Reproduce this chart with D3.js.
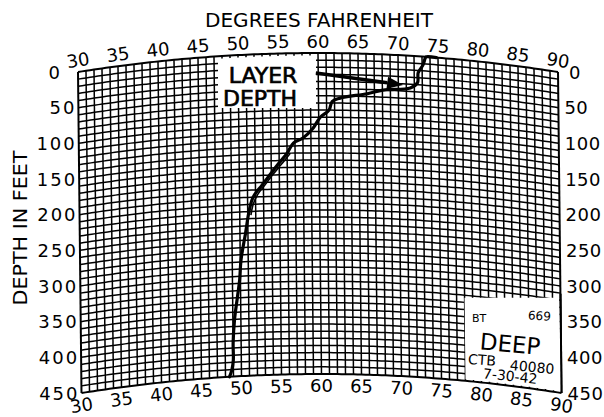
<!DOCTYPE html>
<html><head><meta charset="utf-8">
<script src="https://cdn.jsdelivr.net/npm/d3@7"></script>
<style>
body{margin:0;background:#fff}
svg{display:block}
text{font-family:"DejaVu Sans",sans-serif;fill:#000}
</style>
</head><body>
<svg id="c" width="604" height="417"></svg>
<script>
// ---------- data ----------
const tempTicks = [30,35,40,45,50,55,60,65,70,75,80,85,90];
const depthTicks = [0,50,100,150,200,250,300,350,400,450];
const titleTop = "DEGREES FAHRENHEIT";
const titleLeft = "DEPTH IN FEET";
// main bathythermograph trace (°F, feet)
const traceTemp  = [74.8,73.5,73.4,73.1,72.5,72.4,71.5,68.1,66.1,62.7,61.7,61.3,60.2,59.3,58.0,56.8,56.0,54.8,53.8,52.8,51.7,51.2,50.7,50.1,49.9,49.6,49.2,49.0,49.0,48.8,48.5];
const traceDepth = [0,0,2,12,23,37,45,50,56,63,68,80,90,105,119,126,140,156,170,184,200,218,250,287,315,339,371,403,427,441,450];
// faint return (up) trace
const upTemp  = [56.4,55.3,54.3,53.3,52.3,51.7,51.4];
const upDepth = [140,155,168,182,196,210,225];
// annotation "LAYER DEPTH" arrow
const arrowTemp = [59.7,70.6];
const arrowDepth = [28,41.5];
const layerLabel = ["LAYER","DEPTH"];
const layerBoxTemp = [47.5,59.75];
const layerBoxDepth = 76;
const infoBoxTemp = 78;
const infoBoxDepth = 326;

// ---------- geometry ----------
const svg = d3.select("#c");
const x = d3.scaleLinear().domain([30,90]).range([78,558]);
const y = d3.scaleLinear().domain([0,450]).range([72,393]);
const sag = 19, half = 240, mid = 318, shear = 3.5;
function P(t,d){
  const px = x(t), f = (px-mid)/half;
  return [px + shear*d/450, y(d) - sag*(1-f*f)];
}
function slopeDeg(t){
  const px = x(t);
  return Math.atan(2*sag*(px-mid)/(half*half))*180/Math.PI;
}
const line = d3.line();
const g = svg.append("g");

// ---------- grid ----------
const tAll = d3.range(30,90.01,1);
const dAll = d3.range(0,450.01,10);
g.selectAll("line.v").data(tAll).join("line")
  .attr("x1",t=>P(t,0)[0]).attr("y1",t=>P(t,0)[1])
  .attr("x2",t=>P(t,450)[0]).attr("y2",t=>P(t,450)[1])
  .attr("stroke","#000").attr("stroke-width",t=>(t===30||t===90)?2:1.5);
const tFine = d3.range(30,90.01,0.5);
g.selectAll("path.h").data(dAll).join("path")
  .attr("d",d=>line(tFine.map(t=>P(t,d))))
  .attr("fill","none").attr("stroke","#000")
  .attr("stroke-width",d=>(d===0||d===450)?2:1.5);

// ---------- white boxes ----------
(function(){
  const tt = d3.range(layerBoxTemp[0],layerBoxTemp[1]+0.001,0.25);
  const top = tt.map(t=>{const p=P(t,0);return [p[0],p[1]+2.5];});
  const yb = P((layerBoxTemp[0]+layerBoxTemp[1])/2,layerBoxDepth)[1];
  const pts = top.concat([[P(layerBoxTemp[1],0)[0],yb],[P(layerBoxTemp[0],0)[0],yb]]);
  g.append("path").attr("d",line(pts)+"Z").attr("fill","#fff");
})();
(function(){
  const yt = P(84,infoBoxDepth)[1];
  const tt = d3.range(infoBoxTemp,90.001,0.25);
  const bottom = tt.map(t=>{const p=P(t,450);return [p[0],p[1]-1.5];}).reverse();
  const pts = [[P(infoBoxTemp,infoBoxDepth)[0],yt],[P(90,infoBoxDepth)[0]-1.5,yt]].concat(bottom);
  g.append("path").attr("d",line(pts)+"Z").attr("fill","#fff");
  g.append("line").attr("x1",P(90,infoBoxDepth)[0]).attr("y1",yt-4)
    .attr("x2",P(90,450)[0]).attr("y2",P(90,450)[1]).attr("stroke","#000").attr("stroke-width",2);
})();

// ---------- trace ----------
const tr = d3.line().curve(d3.curveCatmullRom);
g.append("path").attr("d",tr(traceTemp.map((t,i)=>P(t,traceDepth[i]))))
  .attr("fill","none").attr("stroke","#000").attr("stroke-width",3.2)
  .attr("stroke-linejoin","round").attr("stroke-linecap","round");
g.append("path").attr("d",tr(upTemp.map((t,i)=>P(t,upDepth[i]))))
  .attr("fill","none").attr("stroke","#000").attr("stroke-width",1.6);

// ---------- arrow ----------
(function(){
  const a = P(arrowTemp[0],arrowDepth[0]), b = P(arrowTemp[1],arrowDepth[1]);
  const ang = Math.atan2(b[1]-a[1],b[0]-a[0]);
  const L = 16, W = 6;
  const base = [b[0]-L*Math.cos(ang), b[1]-L*Math.sin(ang)];
  g.append("line").attr("x1",a[0]).attr("y1",a[1]).attr("x2",base[0]).attr("y2",base[1])
    .attr("stroke","#000").attr("stroke-width",3.5);
  const head = [b,[base[0]-W*Math.sin(ang),base[1]+W*Math.cos(ang)],[base[0]+W*Math.sin(ang),base[1]-W*Math.cos(ang)]];
  g.append("path").attr("d",line(head)+"Z").attr("fill","#000");
})();

// ---------- texts ----------
const cx = (layerBoxTemp[0]+layerBoxTemp[1])/2;
g.append("text").attr("x",x(cx)-4).attr("y",83).attr("text-anchor","middle")
  .attr("font-size",22).attr("stroke","#000").attr("stroke-width",0.7).text(layerLabel[0]);
g.append("text").attr("x",x(cx)-7).attr("y",106).attr("text-anchor","middle")
  .attr("font-size",22).attr("stroke","#000").attr("stroke-width",0.7).text(layerLabel[1]);

const info = g.append("g");
info.append("text").attr("x",472).attr("y",322).attr("font-size",11).text("BT");
info.append("text").attr("x",528).attr("y",320).attr("font-size",12).attr("transform","rotate(4,540,316)").text("669");
info.append("text").attr("x",480).attr("y",352).attr("font-size",23).attr("transform","rotate(5,510,342)").text("DEEP");
info.append("text").attr("x",468).attr("y",365).attr("font-size",14).attr("transform","rotate(4,483,360)").text("CTB");
info.append("text").attr("x",510).attr("y",372).attr("font-size",14).attr("transform","rotate(5,532,366)").text("40080");
info.append("text").attr("x",483).attr("y",381).attr("font-size",14).attr("transform","rotate(6,510,375)").text("7-30-42");

// top / bottom temperature labels (baseline placed so cap-centre sits on the arc offset)
const FS = 18, capHalf = 0.365*FS;
g.selectAll("text.tt").data(tempTicks).join("text")
  .attr("text-anchor","middle").attr("font-size",FS)
  .attr("transform",t=>{const p=P(t,0);return `translate(${p[0]},${p[1]-12}) rotate(${slopeDeg(t)})`;})
  .attr("y",capHalf).text(t=>t);
g.selectAll("text.tb").data(tempTicks).join("text")
  .attr("text-anchor","middle").attr("font-size",FS)
  .attr("transform",t=>{const p=P(t,450);const f=(x(t)-mid)/half;return `translate(${p[0]},${p[1]+11.5+0.5*f*f}) rotate(${slopeDeg(t)})`;})
  .attr("y",capHalf).text(t=>t);

// depth labels
g.selectAll("text.dl").data(depthTicks).join("text")
  .attr("text-anchor","end").attr("font-size",FS).attr("letter-spacing",2)
  .attr("x",d=>P(30,d)[0]-2 + (d===0?-14:0)).attr("y",d=>P(30,d)[1]+capHalf).text(d=>d);
g.selectAll("text.dr").data(depthTicks).join("text")
  .attr("text-anchor","start").attr("font-size",FS).attr("letter-spacing",0.5)
  .attr("x",d=>P(90,d)[0]+6 + (d===0?5:0)).attr("y",d=>P(90,d)[1]+capHalf).text(d=>d);

// titles
g.append("text").attr("x",x(60)+1).attr("y",27).attr("text-anchor","middle")
  .attr("font-size",19).attr("textLength",228).attr("lengthAdjust","spacingAndGlyphs").text(titleTop);
g.append("text").attr("transform","translate(27,228) rotate(-90)").attr("text-anchor","middle")
  .attr("font-size",19).attr("textLength",155).attr("lengthAdjust","spacingAndGlyphs").text(titleLeft);
</script>
</body></html>
